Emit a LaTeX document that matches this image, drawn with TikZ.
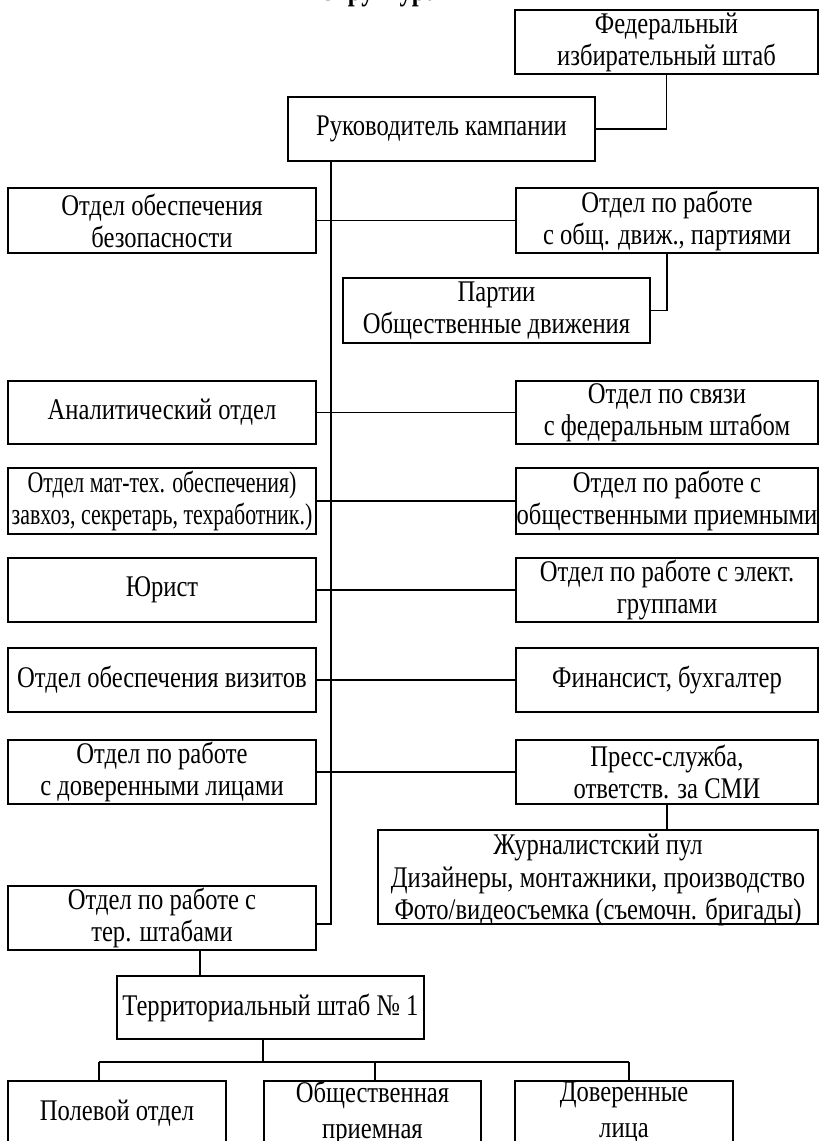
\documentclass[tikz,border=0pt]{standalone}
\usepackage{fontspec}
\setmainfont{Liberation Serif}[FakeStretch=0.82]
\begin{document}
\begin{tikzpicture}[x=1pt,y=-1pt,
  box/.style={draw, line width=1.3pt, align=center, inner sep=0pt,
    font=\fontsize{30}{32}\selectfont},
  conn/.style={line width=1.8pt}]
\useasboundingbox (0,0) rectangle (819,1141);
% title (only its lower part is visible)
\node[anchor=base, font=\bfseries\fontsize{30}{34}\selectfont, inner sep=0pt] (title) at (378,0.5) {Структура};
% boxes
\node[box, minimum width=303pt, minimum height=64pt] (fed) at (666.5,42) {Федеральный\\избирательный штаб};
\node[box, minimum width=307pt, minimum height=64pt] (ruk) at (441.5,129) {Руководитель кампании};
\node[box, minimum width=308pt, minimum height=65pt] (bez) at (162,220.5) {Отдел обеспечения\\безопасности};
\node[box, minimum width=302pt, minimum height=65pt] (obsh) at (667,220.5) {Отдел по работе\\с общ. движ., партиями};
\node[box, minimum width=307pt, minimum height=65pt] (part) at (496.5,310.5) {Партии\\Общественные движения};
\node[box, minimum width=308pt, minimum height=63pt] (anal) at (162,412.5) {Аналитический отдел};
\node[box, minimum width=302pt, minimum height=63pt] (svyaz) at (667,412.5) {Отдел по связи\\с федеральным штабом};
\node[box, minimum width=308pt, minimum height=66pt] (mat) at (162,501) {\scalebox{0.89}[1]{Отдел мат-тех. обеспечения)}\\\scalebox{0.89}[1]{завхоз, секретарь, техработник.)}};
\node[box, minimum width=302pt, minimum height=66pt] (priem) at (667,501) {Отдел по работе с\\общественными приемными};
\node[box, minimum width=308pt, minimum height=64pt] (yur) at (162,590) {Юрист};
\node[box, minimum width=302pt, minimum height=64pt] (elekt) at (667,590) {Отдел по работе с элект.\\группами};
\node[box, minimum width=308pt, minimum height=64pt] (viz) at (162,680) {Отдел обеспечения визитов};
\node[box, minimum width=302pt, minimum height=64pt] (fin) at (667,680) {Финансист, бухгалтер};
\node[box, minimum width=308pt, minimum height=64pt] (dov) at (162,772) {Отдел по работе\\с доверенными лицами};
\node[box, minimum width=302pt, minimum height=64pt] (press) at (667,772) {Пресс-служба,\\ответств. за СМИ};
\node[box, minimum width=440pt, minimum height=94pt] (zhur) at (598,877) {};
\node[align=center, inner sep=0pt, font=\fontsize{30}{32.5}\selectfont] (zhurtxt) at ([yshift=-3pt]zhur.center) {Журналистский пул\\Дизайнеры, монтажники, производство\\Фото/видеосъемка (съемочн. бригады)};
\node[box, minimum width=308pt, minimum height=64pt] (ter) at (162,918) {Отдел по работе с\\тер. штабами};
\node[box, minimum width=307pt, minimum height=63pt] (terr) at (270.5,1007.5) {Территориальный штаб №~1};
\node[box, minimum width=218pt, minimum height=64pt] (pol) at (117,1113) {Полевой отдел};
\node[box, minimum width=217pt, minimum height=64pt, font=\fontsize{30}{36}\selectfont] (obpr) at (372.5,1113) {Общественная\\приемная};
\node[box, minimum width=218pt, minimum height=64pt, font=\fontsize{30}{36}\selectfont] (dovl) at (624,1113) {Доверенные\\лица};
% helper coordinates
\coordinate (tktop) at (331,161);
\coordinate (tkend) at (331,924);
\coordinate (tdrop) at (200,950);
\coordinate (bus) at (263,1062);
\coordinate (b1) at (99,1062);
\coordinate (b2) at (375,1062);
\coordinate (b3) at (629,1062);
% connectors
\draw[conn] (fed.south) |- (ruk.east);
\draw[conn] (tktop) -- (tkend) -- (tkend -| ter.east);
\draw[conn] (bez.east) -- (obsh.west);
\draw[conn] (obsh.south) |- (part.east);
\draw[conn] (anal.east) -- (svyaz.west);
\draw[conn] (mat.east) -- (priem.west);
\draw[conn] (yur.east) -- (elekt.west);
\draw[conn] (viz.east) -- (fin.west);
\draw[conn] (dov.east) -- (press.west);
\draw[conn] (press.south) -- (press.south |- zhur.north);
\draw[conn] (tdrop) -- (tdrop |- terr.north);
\draw[conn] (bus |- terr.south) -- (bus);
\draw[conn] (b1) -- (b3);
\draw[conn] (b1) -- (b1 |- pol.north);
\draw[conn] (b2) -- (b2 |- obpr.north);
\draw[conn] (b3) -- (b3 |- dovl.north);
\end{tikzpicture}
\end{document}
